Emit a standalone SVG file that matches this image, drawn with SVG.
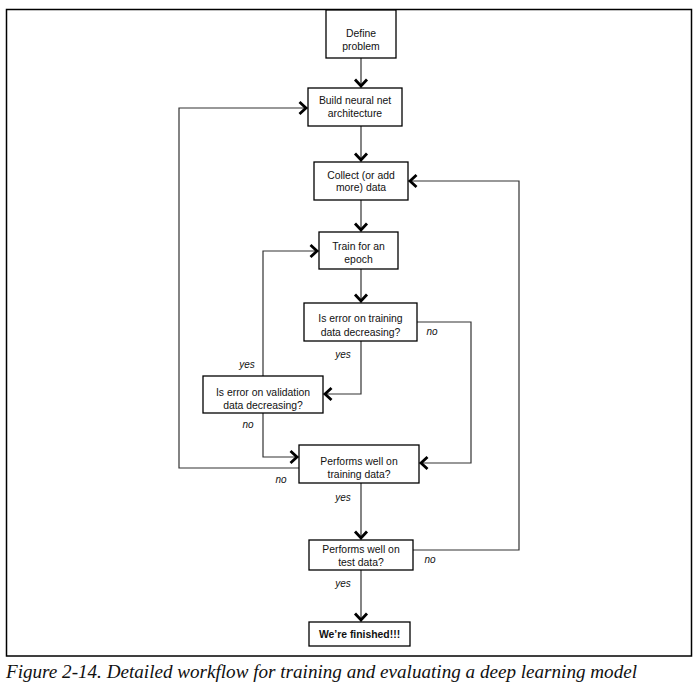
<svg xmlns="http://www.w3.org/2000/svg" width="697" height="687" viewBox="0 0 697 687">
<style>
.box{fill:#fff;stroke:#000;stroke-width:1.3}
.t{font-family:"Liberation Sans",Arial,sans-serif;font-size:10.4px;fill:#111;text-anchor:middle}
.lbl{font-family:"Liberation Sans",Arial,sans-serif;font-size:10px;font-style:italic;fill:#111;text-anchor:middle}
.c{fill:none;stroke:#333;stroke-width:1.2}
.cap{font-family:"Liberation Serif","Times New Roman",serif;font-style:italic;font-size:19.5px;fill:#111}
</style>
<defs>
<marker id="ah" viewBox="-11 -8 13 16" refX="0" refY="0" markerWidth="13" markerHeight="16" markerUnits="userSpaceOnUse" orient="auto">
<path d="M-8,-6 L-1.5,0 L-8,6" fill="none" stroke="#000" stroke-width="2.8"/>
</marker>
</defs>
<rect x="0" y="0" width="697" height="687" fill="#fff"/>
<rect x="6.5" y="9.5" width="685" height="646.5" fill="none" stroke="#000" stroke-width="1.5"/>

<g id="connectors">
<path class="c" d="M361,58 V87.5" marker-end="url(#ah)"/>
<path class="c" d="M361,126 V161.5" marker-end="url(#ah)"/>
<path class="c" d="M361,200 V231.5" marker-end="url(#ah)"/>
<path class="c" d="M361,269 V302.5" marker-end="url(#ah)"/>
<path class="c" d="M361,341 V394 H323.5" marker-end="url(#ah)"/>
<path class="c" d="M263,376 V251 H318.5" marker-end="url(#ah)"/>
<path class="c" d="M263,413 V457 H298.5" marker-end="url(#ah)"/>
<path class="c" d="M417,322 H471 V463 H419.5" marker-end="url(#ah)"/>
<path class="c" d="M299,468 H179 V108 H307.5" marker-end="url(#ah)"/>
<path class="c" d="M361,483 V539.5" marker-end="url(#ah)"/>
<path class="c" d="M413,550 H519 V181 H408.5" marker-end="url(#ah)"/>
<path class="c" d="M361,570 V621.5" marker-end="url(#ah)"/>
</g>

<g id="define">
<rect class="box" x="326" y="10" width="70" height="48"/>
<text class="t" x="361" y="37">Define</text>
<text class="t" x="361" y="50">problem</text>
</g>
<g id="build">
<rect class="box" x="308" y="88" width="94" height="38"/>
<text class="t" x="355" y="104">Build neural net</text>
<text class="t" x="355" y="117">architecture</text>
</g>
<g id="collect">
<rect class="box" x="314" y="162" width="94" height="38"/>
<text class="t" x="361" y="179">Collect (or add</text>
<text class="t" x="361" y="191">more) data</text>
</g>
<g id="train">
<rect class="box" x="319" y="232" width="79" height="37"/>
<text class="t" x="358.5" y="250">Train for an</text>
<text class="t" x="358.5" y="263">epoch</text>
</g>
<g id="train-error">
<rect class="box" x="304" y="303" width="113" height="38"/>
<text class="t" x="360.5" y="322">Is error on training</text>
<text class="t" x="360.5" y="336">data decreasing?</text>
</g>
<g id="val-error">
<rect class="box" x="203" y="376" width="120" height="37"/>
<text class="t" x="263" y="396">Is error on validation</text>
<text class="t" x="263" y="409">data decreasing?</text>
</g>
<g id="perf-train">
<rect class="box" x="299" y="445" width="120" height="38"/>
<text class="t" x="359" y="465">Performs well on</text>
<text class="t" x="359" y="478">training data?</text>
</g>
<g id="perf-test">
<rect class="box" x="309" y="540" width="104" height="30"/>
<text class="t" x="361" y="553">Performs well on</text>
<text class="t" x="361" y="566">test data?</text>
</g>
<g id="finished">
<rect class="box" x="309" y="622" width="101" height="24"/>
<text class="t" x="359.5" y="638" font-weight="bold">We’re finished!!!</text>
</g>

<g id="labels">
<text class="lbl" x="432" y="335">no</text>
<text class="lbl" x="343" y="358">yes</text>
<text class="lbl" x="247" y="368">yes</text>
<text class="lbl" x="248" y="428">no</text>
<text class="lbl" x="281" y="483">no</text>
<text class="lbl" x="343" y="501">yes</text>
<text class="lbl" x="430" y="563">no</text>
<text class="lbl" x="343" y="587">yes</text>
</g>

<text class="cap" x="6" y="678" textLength="631" lengthAdjust="spacingAndGlyphs">Figure 2-14. Detailed workflow for training and evaluating a deep learning model</text>
</svg>
